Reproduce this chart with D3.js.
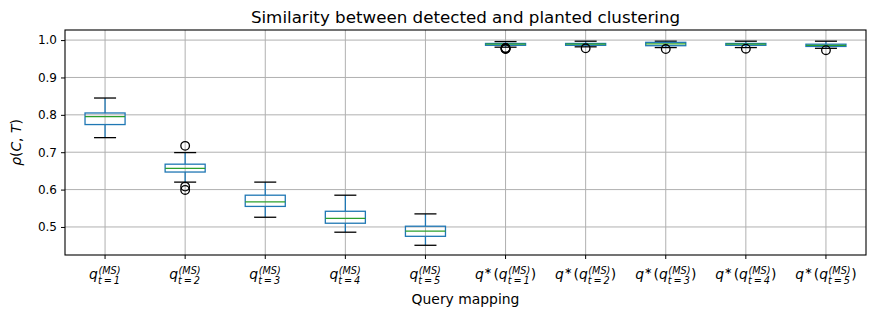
<!DOCTYPE html>
<html><head><meta charset="utf-8">
<script src="https://cdn.jsdelivr.net/npm/d3@7"></script>
<style>body{margin:0;background:#fff}svg{display:block}text{font-family:"DejaVu Sans",sans-serif}</style>
</head><body><svg id="c" width="875" height="317"></svg>
<script>
const tickLabels = ["q_{t=1}^{(MS)}","q_{t=2}^{(MS)}","q_{t=3}^{(MS)}","q_{t=4}^{(MS)}","q_{t=5}^{(MS)}",
  "q^*(q_{t=1}^{(MS)})","q^*(q_{t=2}^{(MS)})","q^*(q_{t=3}^{(MS)})","q^*(q_{t=4}^{(MS)})","q^*(q_{t=5}^{(MS)})"];
const whisHi = [0.845,0.699,0.620,0.585,0.535,0.996,0.997,0.997,0.997,0.997];
const q3     = [0.805,0.668,0.585,0.542,0.502,0.991,0.991,0.994,0.991,0.989];
const med    = [0.795,0.657,0.567,0.523,0.489,0.989,0.989,0.990,0.989,0.986];
const q1     = [0.774,0.647,0.555,0.510,0.475,0.986,0.986,0.985,0.986,0.983];
const whisLo = [0.739,0.620,0.526,0.486,0.451,0.981,0.982,0.980,0.980,0.978];
const outliers = [[],[0.717,0.608,0.599],[],[],[],[0.979,0.978,0.977,0.976],[0.978],[0.976],[0.977],[0.973]];
const yTicks = [0.5,0.6,0.7,0.8,0.9,1.0];
const title = "Similarity between detected and planted clustering";
const xTitle = "Query mapping";

const svg = d3.select("#c");
const L=65,R=866,T=30,B=255;
const idx = d3.range(tickLabels.length);
const x = d3.scaleBand().domain(idx).range([L,R]).padding(0);
const y = d3.scaleLinear().domain([0.425,1.027]).range([B,T]);
const cx = i => x(i)+x.bandwidth()/2;
const bw = x.bandwidth()*0.5, cw = bw*0.55;
const LW = 1.3;

// grid
svg.append("g").selectAll("line").data(yTicks).join("line")
  .attr("x1",L).attr("x2",R).attr("y1",d=>y(d)).attr("y2",d=>y(d))
  .attr("stroke","#b0b0b0").attr("stroke-width",1);
svg.append("g").selectAll("line").data(idx).join("line")
  .attr("x1",d=>cx(d)).attr("x2",d=>cx(d)).attr("y1",T).attr("y2",B)
  .attr("stroke","#b0b0b0").attr("stroke-width",1);

// axes
const ya = svg.append("g").attr("transform",`translate(${L},0)`)
  .call(d3.axisLeft(y).tickValues(yTicks).tickFormat(d3.format(".1f")).tickSize(4).tickPadding(4));
const xa = svg.append("g").attr("transform",`translate(0,${B})`)
  .call(d3.axisBottom(x).tickSize(4).tickFormat(""));
[ya,xa].forEach(a=>{a.select(".domain").remove();a.selectAll("line").attr("stroke","#000");
  a.selectAll("text").attr("fill","#000").style("font-size","12px").style("font-family","DejaVu Sans");});
svg.append("rect").attr("x",L).attr("y",T).attr("width",R-L).attr("height",B-T)
  .attr("fill","none").attr("stroke","#000").attr("stroke-width",1.1);

// boxes
const g = svg.append("g").attr("stroke-width",LW);
idx.forEach(i=>{
  const c = cx(i);
  g.append("line").attr("x1",c).attr("x2",c).attr("y1",y(q3[i])).attr("y2",y(whisHi[i])).attr("stroke","#1f77b4");
  g.append("line").attr("x1",c).attr("x2",c).attr("y1",y(q1[i])).attr("y2",y(whisLo[i])).attr("stroke","#1f77b4");
  g.append("line").attr("x1",c-cw/2).attr("x2",c+cw/2).attr("y1",y(whisHi[i])).attr("y2",y(whisHi[i])).attr("stroke","#000");
  g.append("line").attr("x1",c-cw/2).attr("x2",c+cw/2).attr("y1",y(whisLo[i])).attr("y2",y(whisLo[i])).attr("stroke","#000");
  g.append("rect").attr("x",c-bw/2).attr("width",bw).attr("y",y(q3[i])).attr("height",y(q1[i])-y(q3[i]))
    .attr("fill","none").attr("stroke","#1f77b4");
  g.append("line").attr("x1",c-bw/2).attr("x2",c+bw/2).attr("y1",y(med[i])).attr("y2",y(med[i])).attr("stroke","#2ca02c");
  outliers[i].forEach(o=>g.append("circle").attr("cx",c).attr("cy",y(o)).attr("r",4.3)
    .attr("fill","none").attr("stroke","#000"));
});

// math tick labels
const FS=13.9, SS=9.7;
function layout(str){
  let m;
  const segs=[];
  if((m=str.match(/^q\^\*\(q_\{(.+)\}\^\{(.+)\}\)$/))){
    segs.push({t:"q",it:1},{t:"∗",sup:1,raise:-5.5,size:SS},{t:"("},{t:"q",it:1},{stack:[m[2],m[1]]},{t:")"});
  } else if((m=str.match(/^q_\{(.+)\}\^\{(.+)\}$/))){
    segs.push({t:"q",it:1},{stack:[m[2],m[1]]});
  }
  return segs;
}
const labG = svg.append("g");
tickLabels.forEach((s,i)=>{
  const grp = labG.append("g");
  let px=0; const base=279;
  layout(s).forEach(sg=>{
    if(sg.stack){
      const a = grp.append("text").attr("x",px+0.5).attr("y",273.7).style("font-size",SS+"px").style("font-style","italic").text(sg.stack[0]);
      const b = grp.append("text").attr("x",px).attr("y",284.3).style("font-size",SS+"px").style("font-style","italic")
        .text(sg.stack[1].replace("=","\u2009=\u2009"));
      px += Math.max(a.node().getComputedTextLength()+0.5, b.node().getComputedTextLength())+0.5;
    } else {
      const t = grp.append("text").attr("x",px).attr("y",base+(sg.raise||0))
        .style("font-size",(sg.size||FS)+"px").style("font-style",sg.it?"italic":"normal").text(sg.t);
      px += t.node().getComputedTextLength()+(sg.sup?1.5:0);
    }
  });
  grp.attr("transform",`translate(${cx(i)-px/2},0)`);
});

// titles
svg.append("text").attr("x",(L+R)/2).attr("y",23).attr("text-anchor","middle").style("font-size","16.7px").text(title);
svg.append("text").attr("x",(L+R)/2).attr("y",303.5).attr("text-anchor","middle").style("font-size","13.9px").text(xTitle);
const yl = svg.append("text").attr("transform",`translate(21,${(T+B)/2}) rotate(-90)`).attr("text-anchor","middle").style("font-size","13.9px");
yl.append("tspan").style("font-style","italic").text("ρ");
yl.append("tspan").text("(");
yl.append("tspan").style("font-style","italic").text("C");
yl.append("tspan").text(", ");
yl.append("tspan").style("font-style","italic").text("T");
yl.append("tspan").text(")");
</script></body></html>
